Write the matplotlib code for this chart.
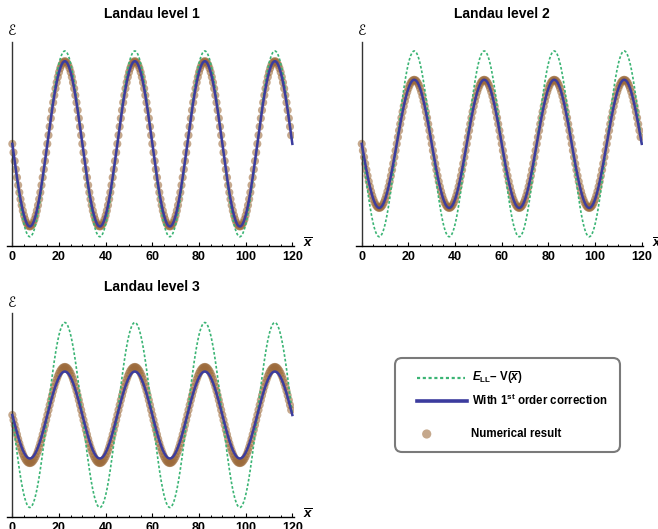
import numpy as np
import matplotlib
matplotlib.use("Agg")
import matplotlib.pyplot as plt
from matplotlib.patches import FancyBboxPatch
from matplotlib.ticker import MultipleLocator

# ---------------- data ----------------
panel_titles = ["Landau level 1", "Landau level 2", "Landau level 3"]
x_ticks = [0, 20, 40, 60, 80, 100, 120]
x_tick_labels = ["0", "20", "40", "60", "80", "100", "120"]
x_range = [0, 120]
dot_step = 0.5
potential_period = 30.0                 # period of V(x) in units of x
free_amplitude = [1.0, 1.0, 1.0]        # E_LL - V(x)
corrected_amplitude = [0.89, 0.69, 0.47]  # with 1st order correction
numerical_amplitude = [0.89, 0.69, 0.52]  # numerical result
legend_labels = [r"$E_{\rm LL}$– V($\overline{x}$)",
                 r"With 1$^{\rm st}$ order correction",
                 "Numerical result"]

# ---------------- style ----------------
plt.rcParams["font.family"] = ["Liberation Sans", "DejaVu Sans"]
plt.rcParams["font.weight"] = "bold"
plt.rcParams["mathtext.fontset"] = "custom"
plt.rcParams["mathtext.rm"] = "Liberation Sans:bold"
plt.rcParams["mathtext.it"] = "Liberation Sans:italic:bold"
plt.rcParams["mathtext.bf"] = "Liberation Sans:bold"

GREEN = "#3ab474"
BLUE = "#3c3c9e"
DOT = "#9c6a3a"
DOT_ALPHA = 0.58

W, H = 658, 529
fig = plt.figure(figsize=(W / 100, H / 100), dpi=100)

x_line = np.linspace(x_range[0], x_range[1], 1201)
x_dots = np.arange(x_range[0], x_range[1], dot_step)

def profile(x, amp):
    return -amp * np.sin(2 * np.pi * x / potential_period)

# axes rectangles in pixels: left, top, width, height
rects = [(6.5, 41.7, 287, 204.3), (355.9, 41.7, 287, 204.3), (6.5, 313.3, 287, 203.4)]
title_pos = [(151.7, 14), (501.7, 14), (151.7, 286.7)]

for i, (l, t, w, h) in enumerate(rects):
    ax = fig.add_axes([l / W, 1 - (t + h) / H, w / W, h / H])
    ax.set_xlim(-2.5, 120.5)
    ax.set_ylim(-1.1, 1.1)
    ax.scatter(x_dots, profile(x_dots, numerical_amplitude[i]), s=34,
               color=DOT, alpha=DOT_ALPHA, edgecolors="none", zorder=2)
    ax.plot(x_line, profile(x_line, free_amplitude[i]), color=GREEN, lw=1.2,
            dashes=(1.6, 1.2), zorder=3)
    ax.plot(x_line, profile(x_line, corrected_amplitude[i]), color=BLUE, lw=1.8,
            zorder=4)
    for s in ["top", "right"]:
        ax.spines[s].set_visible(False)
    ax.spines["left"].set_position(("data", 0))
    ax.spines["left"].set_color("#333333")
    ax.spines["left"].set_linewidth(1.0)
    ax.spines["bottom"].set_linewidth(1.0)
    ax.set_yticks([])
    ax.set_xticks(x_ticks)
    ax.set_xticklabels(x_tick_labels, fontsize=9, fontweight="bold")
    ax.xaxis.set_minor_locator(MultipleLocator(5))
    ax.tick_params(axis="x", which="major", direction="in", length=3.2, width=0.8, pad=3.5)
    ax.tick_params(axis="x", which="minor", direction="in", length=1.6, width=0.7)
    ax.patch.set_alpha(0)
    # axis labels
    ax.annotate(r"$\overline{x}$", xy=(1, 0), xycoords="axes fraction",
                xytext=(14.5, 2), textcoords="offset pixels",
                ha="center", va="center", fontsize=9.5, annotation_clip=False)
    ax.annotate("ℰ", xy=(0, 1.1), xycoords="data", xytext=(0, 10.5),
                textcoords="offset pixels", ha="center", va="center",
                fontsize=10, fontweight="normal", family=["DejaVu Sans"],
                annotation_clip=False)
    tx, ty = title_pos[i]
    fig.text(tx / W, 1 - ty / H, panel_titles[i], ha="center", va="center",
             fontsize=10, fontweight="bold")

# ---------------- legend ----------------
lax = fig.add_axes([0, 0, 1, 1])
lax.set_xlim(0, W)
lax.set_ylim(H, 0)
lax.axis("off")
lax.patch.set_alpha(0)
frame = FancyBboxPatch((395, 358), 225, 94, boxstyle="round,pad=0,rounding_size=7",
                       ec="#7a7a7a", fc="white", lw=1.5)
lax.add_patch(frame)
lax.plot([417, 465], [378, 378], color=GREEN, lw=1.6, dashes=(1.4, 1.2))
lax.plot([417, 467], [400.7, 400.7], color=BLUE, lw=2.6)
lax.scatter([426.7], [434], s=44, color=DOT, alpha=DOT_ALPHA, edgecolors="none")
lax.text(472, 378, legend_labels[0], va="center", ha="left", fontsize=8.3)
lax.text(472, 400.7, legend_labels[1], va="center", ha="left", fontsize=8.3)
lax.text(470.7, 434, legend_labels[2], va="center", ha="left", fontsize=8.3)

fig.savefig("out.png", dpi=100)
